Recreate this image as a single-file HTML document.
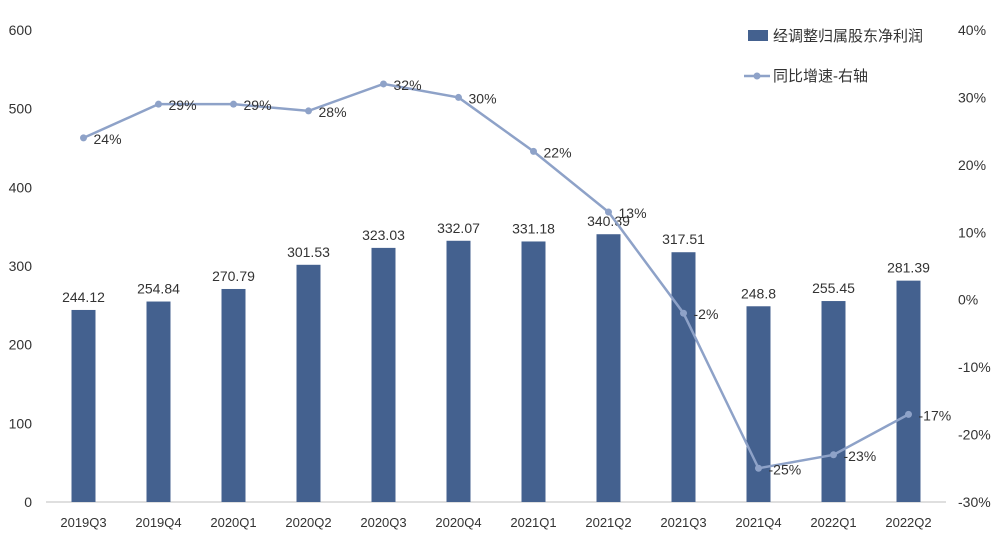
<!DOCTYPE html>
<html><head><meta charset="utf-8"><style>
body{margin:0;background:#fff;font-family:"Liberation Sans","Noto Sans CJK SC",sans-serif;}
svg text{font-family:"Liberation Sans","Noto Sans CJK SC",sans-serif;}
</style></head><body>
<svg id="chart" width="1003" height="536"></svg>
<script>
const categories=["2019Q3","2019Q4","2020Q1","2020Q2","2020Q3","2020Q4","2021Q1","2021Q2","2021Q3","2021Q4","2022Q1","2022Q2"];
const profitValues=[244.12,254.84,270.79,301.53,323.03,332.07,331.18,340.39,317.51,248.8,255.45,281.39];
const profitLabels=["244.12","254.84","270.79","301.53","323.03","332.07","331.18","340.39","317.51","248.8","255.45","281.39"];
const growthValues=[24,29,29,28,32,30,22,13,-2,-25,-23,-17];
const leftTicks=[0,100,200,300,400,500,600];
const rightTicks=[-30,-20,-10,0,10,20,30,40];

const svg=document.getElementById('chart');
const NS='http://www.w3.org/2000/svg';
const yTop=30,yBottom=502,x0=46,x1=946;
const yL=v=>yBottom-(v/600)*(yBottom-yTop);
const yR=v=>yBottom-((v+30)/70)*(yBottom-yTop);
const step=(x1-x0)/categories.length;
const xC=i=>x0+step*(i+0.5);
function mk(tag,attrs,txt){const e=document.createElementNS(NS,tag);for(const k in attrs)e.setAttribute(k,attrs[k]);if(txt!=null)e.textContent=txt;svg.appendChild(e);return e;}

leftTicks.forEach(t=>{const e=mk('text',{x:32,y:yL(t)+5,'text-anchor':'end','font-size':14,fill:'#333'},String(t));

});
rightTicks.forEach(t=>{const e=mk('text',{x:958,y:yR(t)+5,'font-size':14,fill:'#333'},t+'%');

});
const ax=mk('line',{x1:x0,x2:x1,y1:yBottom,y2:yBottom,stroke:'#bfbfbf','stroke-width':1});



categories.forEach((c,i)=>{
 const bw=24,v=profitValues[i];
 const r=mk('rect',{x:xC(i)-bw/2,y:yL(v),width:bw,height:yBottom-yL(v),fill:'#44618f'});
 
 
 const l=mk('text',{x:xC(i),y:yL(v)-8,'text-anchor':'middle','font-size':14,fill:'#333'},profitLabels[i]);
 
 
 const t=mk('text',{x:xC(i),y:527,'text-anchor':'middle','font-size':13,fill:'#333'},c);
 
 
});
const pts=growthValues.map((v,i)=>xC(i)+','+yR(v)).join(' ');
const pl=mk('polyline',{points:pts,fill:'none',stroke:'#8ea2c8','stroke-width':2.5});


growthValues.forEach((v,i)=>{
 const p=mk('circle',{cx:xC(i),cy:yR(v),r:3.5,fill:'#8ea2c8'});
 
 
 const l=mk('text',{x:xC(i)+10,y:yR(v)+6,'font-size':14,fill:'#333'},v+'%');
 
 
});
const lr=mk('rect',{x:748,y:30,width:20,height:11,fill:'#44618f'});


const lt=mk('text',{x:773,y:41,'font-size':15,fill:'#333'},'经调整归属股东净利润');


const ll=mk('line',{x1:744,x2:770,y1:76,y2:76,stroke:'#8ea2c8','stroke-width':2.5});


const lc=mk('circle',{cx:757,cy:76,r:3.5,fill:'#8ea2c8'});


const lt2=mk('text',{x:773,y:81,'font-size':15,fill:'#333'},'同比增速-右轴');


</script>
</body></html>
